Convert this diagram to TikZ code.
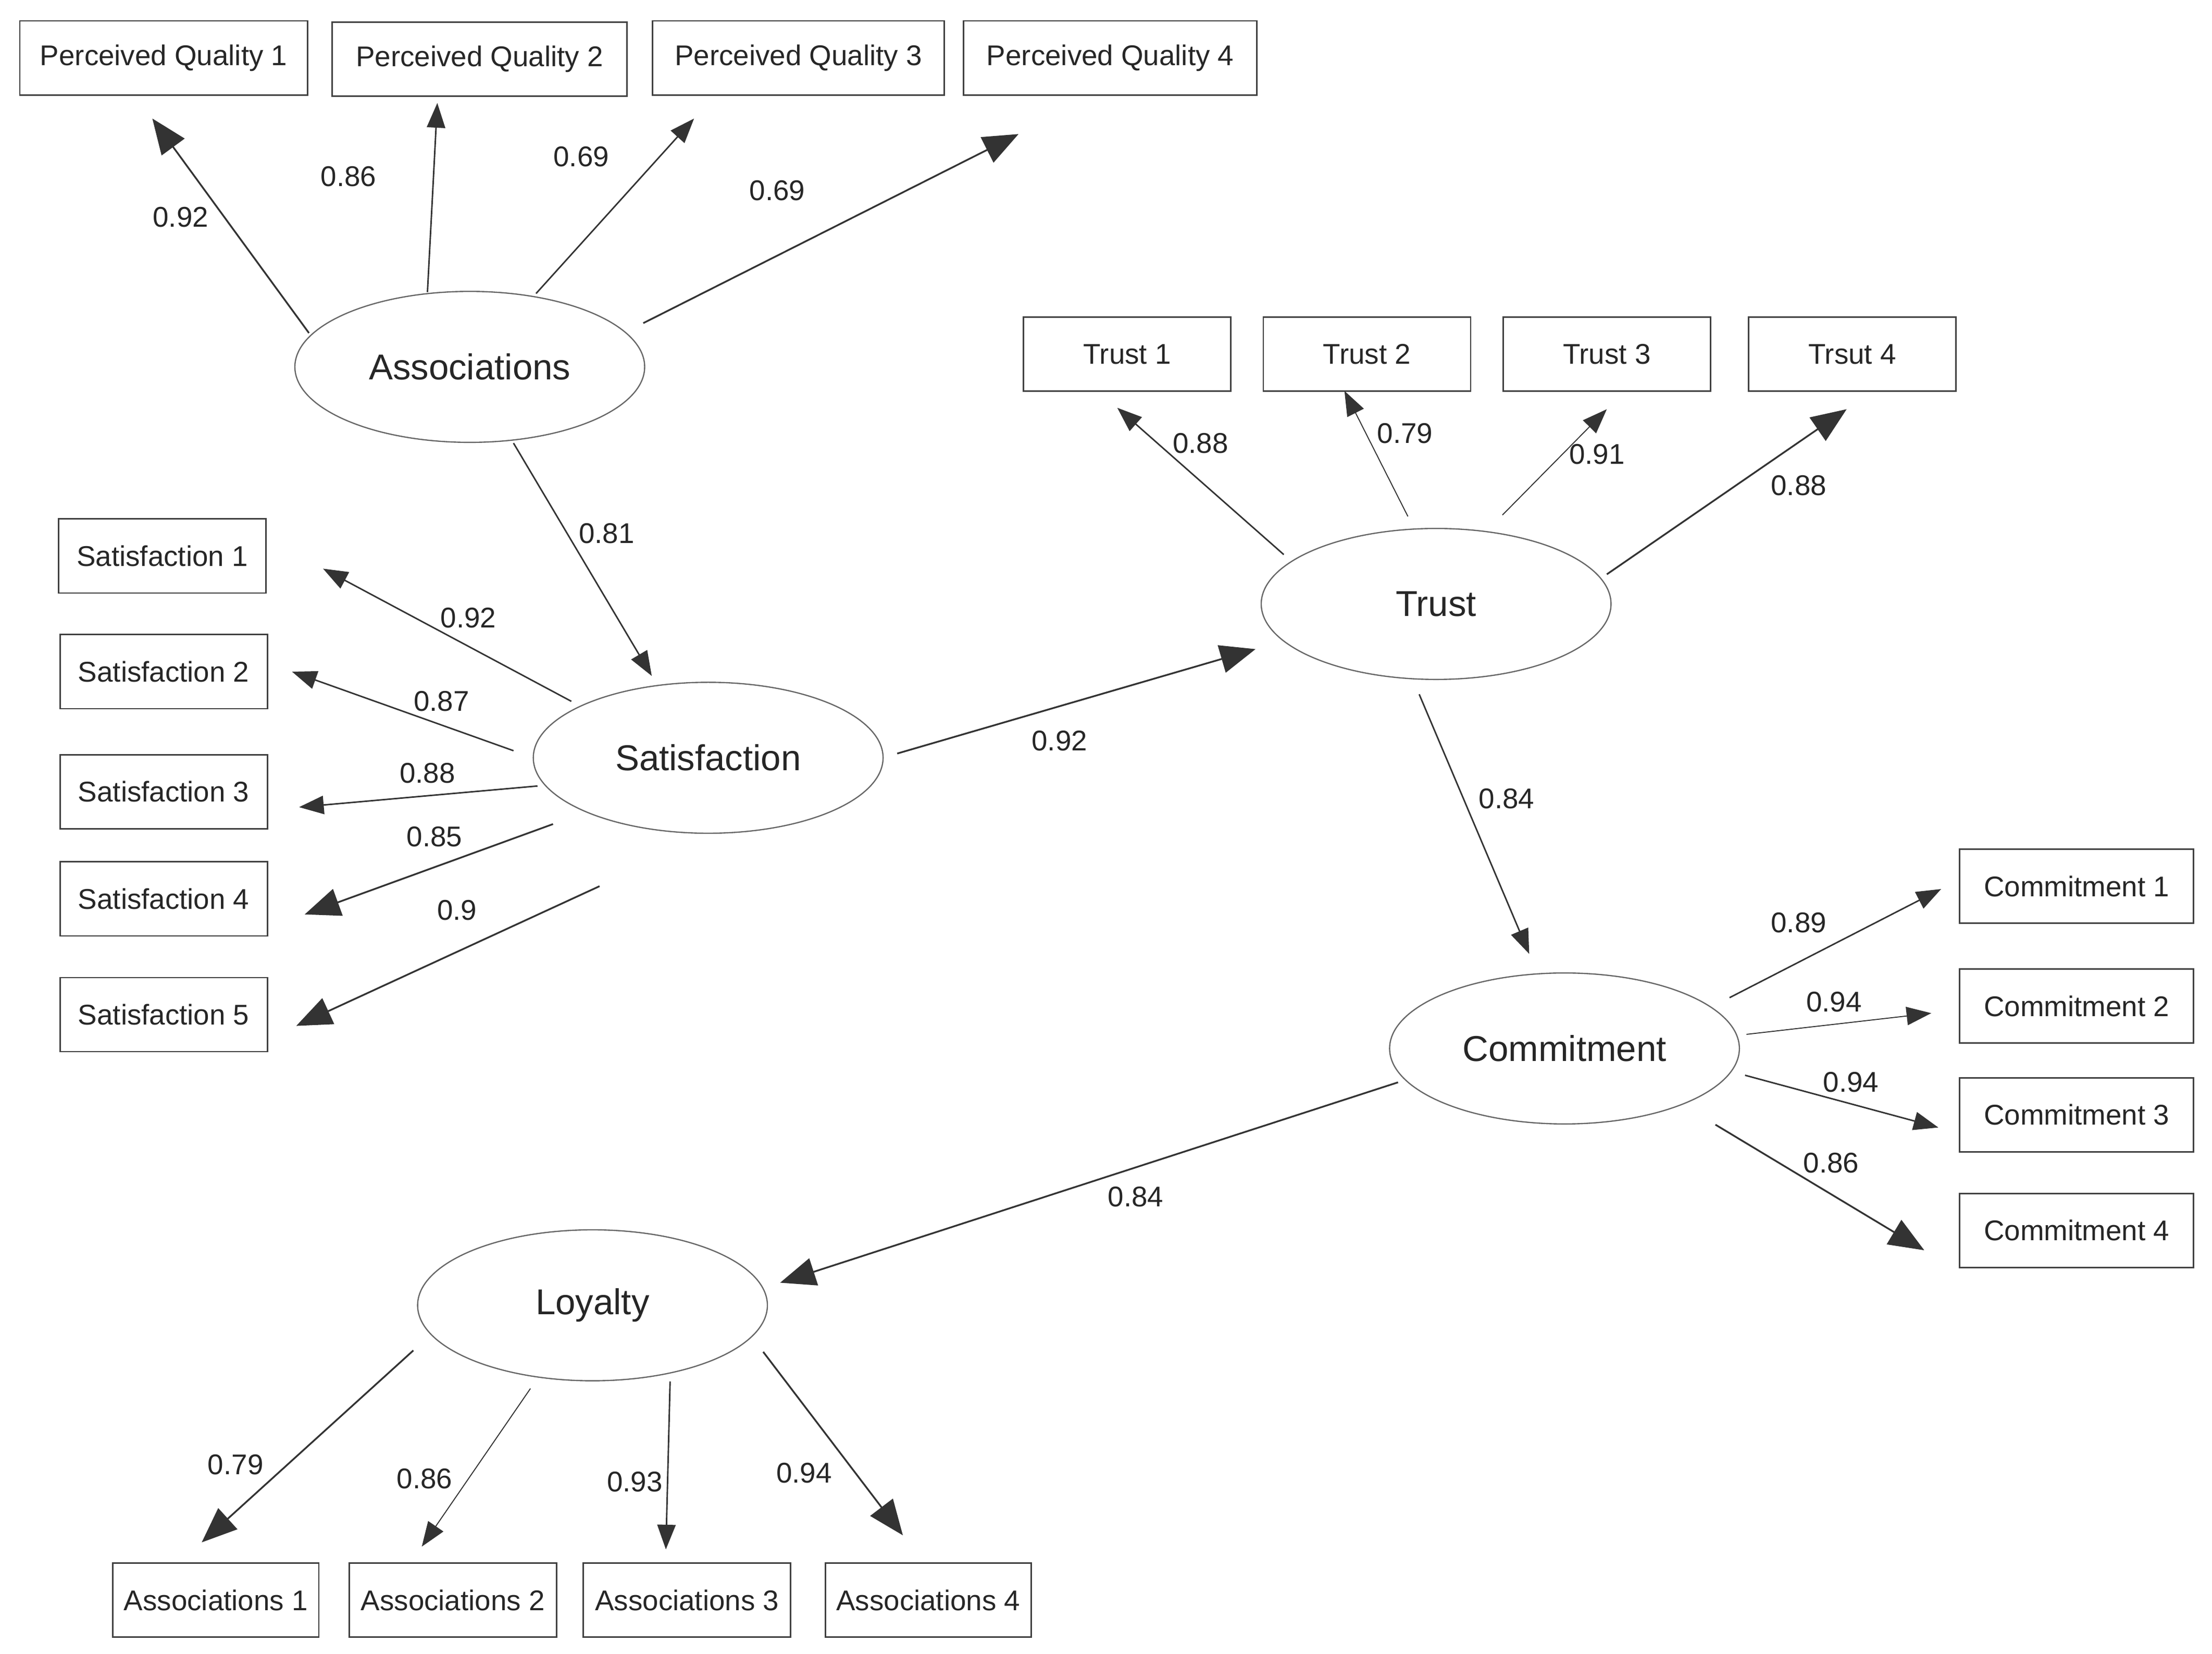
\documentclass[tikz,border=0pt]{standalone}
\usepackage{fontspec}
\setmainfont{Liberation Sans}
\usetikzlibrary{arrows.meta,shapes.geometric}
\begin{document}
\begin{tikzpicture}[x=0.02cm,y=-0.02cm,
 box/.style={draw=black!75,line width=0.6pt,minimum height=1.05cm,inner sep=0pt,font=\fontsize{11.5}{13}\selectfont,text=black!85},
 lat/.style={draw=black!60,line width=0.5pt,ellipse,minimum width=4.96cm,minimum height=2.14cm,inner sep=0pt,font=\fontsize{14.5}{16}\selectfont,text=black!85},
 lbl/.style={font=\fontsize{11.5}{13}\selectfont,text=black!85},
 ar/.style={draw=black!80,line width=0.6pt,-{Triangle[length=3.5mm,width=2.6mm]}},
 arb/.style={draw=black!80,line width=0.7pt,-{Triangle[length=5mm,width=4mm]}}]
\useasboundingbox (0,0) rectangle (1568,1172);
% boxes
\node[box,minimum width=4.08cm] (pq1) at (116,41) {Perceived Quality 1};
\node[box,minimum width=4.18cm] (pq2) at (340,42) {Perceived Quality 2};
\node[box,minimum width=4.14cm] (pq3) at (566,41) {Perceived Quality 3};
\node[box,minimum width=4.16cm] (pq4) at (787,41) {Perceived Quality 4};
\node[box,minimum width=2.94cm] (t1) at (799,251) {Trust 1};
\node[box,minimum width=2.94cm] (t2) at (969,251) {Trust 2};
\node[box,minimum width=2.94cm] (t3) at (1139,251) {Trust 3};
\node[box,minimum width=2.94cm] (t4) at (1313,251) {Trsut 4};
\node[box,minimum width=2.94cm] (s1) at (115,394) {Satisfaction 1};
\node[box,minimum width=2.94cm] (s2) at (116,476) {Satisfaction 2};
\node[box,minimum width=2.94cm] (s3) at (116,561) {Satisfaction 3};
\node[box,minimum width=2.94cm] (s4) at (116,637) {Satisfaction 4};
\node[box,minimum width=2.94cm] (s5) at (116,719) {Satisfaction 5};
\node[box,minimum width=3.32cm] (c1) at (1472,628) {Commitment 1};
\node[box,minimum width=3.32cm] (c2) at (1472,713) {Commitment 2};
\node[box,minimum width=3.32cm] (c3) at (1472,790) {Commitment 3};
\node[box,minimum width=3.32cm] (c4) at (1472,872) {Commitment 4};
\node[box,minimum width=2.92cm] (a1) at (153,1134) {Associations 1};
\node[box,minimum width=2.94cm] (a2) at (321,1134) {Associations 2};
\node[box,minimum width=2.94cm] (a3) at (487,1134) {Associations 3};
\node[box,minimum width=2.92cm] (a4) at (658,1134) {Associations 4};
% latents
\node[lat] (ass) at (333,260) {Associations};
\node[lat] (tru) at (1018,428) {Trust};
\node[lat] (sat) at (502,537) {Satisfaction};
\node[lat] (com) at (1109,743) {Commitment};
\node[lat] (loy) at (420,925) {Loyalty};
% connector endpoints
\coordinate (e1a) at (219,236); \coordinate (e1b) at (108,84);
\coordinate (e2a) at (303,207); \coordinate (e2b) at (310,73);
\coordinate (e3a) at (380,208); \coordinate (e3b) at (492,84);
\coordinate (e4a) at (456,229); \coordinate (e4b) at (722,95);
\coordinate (e5a) at (364,314); \coordinate (e5b) at (462,479);
\coordinate (f1a) at (405,497); \coordinate (f1b) at (229,403);
\coordinate (f2a) at (364,532); \coordinate (f2b) at (207,476);
\coordinate (f3a) at (381,557); \coordinate (f3b) at (212,572);
\coordinate (f4a) at (392,584); \coordinate (f4b) at (216,648);
\coordinate (f5a) at (425,628); \coordinate (f5b) at (210,727);
\coordinate (g0a) at (636,534); \coordinate (g0b) at (890,460);
\coordinate (g1a) at (910,393); \coordinate (g1b) at (792,289);
\coordinate (g2a) at (998,366); \coordinate (g2b) at (953,277);
\coordinate (g3a) at (1065,365); \coordinate (g3b) at (1139,290);
\coordinate (g4a) at (1139,407); \coordinate (g4b) at (1309,290);
\coordinate (h0a) at (1006,492); \coordinate (h0b) at (1084,676);
\coordinate (h1a) at (1226,707); \coordinate (h1b) at (1376,630);
\coordinate (h2a) at (1238,733); \coordinate (h2b) at (1369,718);
\coordinate (h3a) at (1237,762); \coordinate (h3b) at (1374,799);
\coordinate (h4a) at (1216,797); \coordinate (h4b) at (1364,886);
\coordinate (k0a) at (991,767); \coordinate (k0b) at (553,909);
\coordinate (k1a) at (293,957); \coordinate (k1b) at (143,1093);
\coordinate (k2a) at (376,984); \coordinate (k2b) at (299,1096);
\coordinate (k3a) at (475,979); \coordinate (k3b) at (472,1098);
\coordinate (k4a) at (541,958); \coordinate (k4b) at (640,1088);
% connectors
\draw[arb] (e1a) -- (e1b); \draw[ar] (e2a) -- (e2b); \draw[ar] (e3a) -- (e3b); \draw[arb] (e4a) -- (e4b);
\draw[ar] (e5a) -- (e5b);
\draw[ar] (f1a) -- (f1b); \draw[ar] (f2a) -- (f2b); \draw[ar] (f3a) -- (f3b); \draw[arb] (f4a) -- (f4b); \draw[arb] (f5a) -- (f5b);
\draw[arb] (g0a) -- (g0b);
\draw[ar] (g1a) -- (g1b); \draw[ar,line width=0.4pt] (g2a) -- (g2b); \draw[ar,line width=0.4pt] (g3a) -- (g3b); \draw[arb] (g4a) -- (g4b);
\draw[ar] (h0a) -- (h0b);
\draw[ar] (h1a) -- (h1b); \draw[ar,line width=0.4pt] (h2a) -- (h2b); \draw[ar] (h3a) -- (h3b); \draw[arb] (h4a) -- (h4b);
\draw[arb] (k0a) -- (k0b);
\draw[arb] (k1a) -- (k1b); \draw[ar,line width=0.4pt] (k2a) -- (k2b); \draw[ar] (k3a) -- (k3b); \draw[arb] (k4a) -- (k4b);
% labels
\node[lbl] at (128,154) {0.92}; \node[lbl] at (247,125) {0.86}; \node[lbl] at (412,111) {0.69}; \node[lbl] at (551,135) {0.69};
\node[lbl] at (430,378) {0.81};
\node[lbl] at (332,438) {0.92}; \node[lbl] at (313,497) {0.87}; \node[lbl] at (303,548) {0.88}; \node[lbl] at (308,593) {0.85}; \node[lbl] at (324,645) {0.9};
\node[lbl] at (751,525) {0.92};
\node[lbl] at (851,314) {0.88}; \node[lbl] at (996,307) {0.79}; \node[lbl] at (1132,322) {0.91}; \node[lbl] at (1275,344) {0.88};
\node[lbl] at (1068,566) {0.84};
\node[lbl] at (1275,654) {0.89}; \node[lbl] at (1300,710) {0.94}; \node[lbl] at (1312,767) {0.94}; \node[lbl] at (1298,824) {0.86};
\node[lbl] at (805,848) {0.84};
\node[lbl] at (167,1038) {0.79}; \node[lbl] at (301,1048) {0.86}; \node[lbl] at (450,1050) {0.93}; \node[lbl] at (570,1044) {0.94};
\end{tikzpicture}
\end{document}
